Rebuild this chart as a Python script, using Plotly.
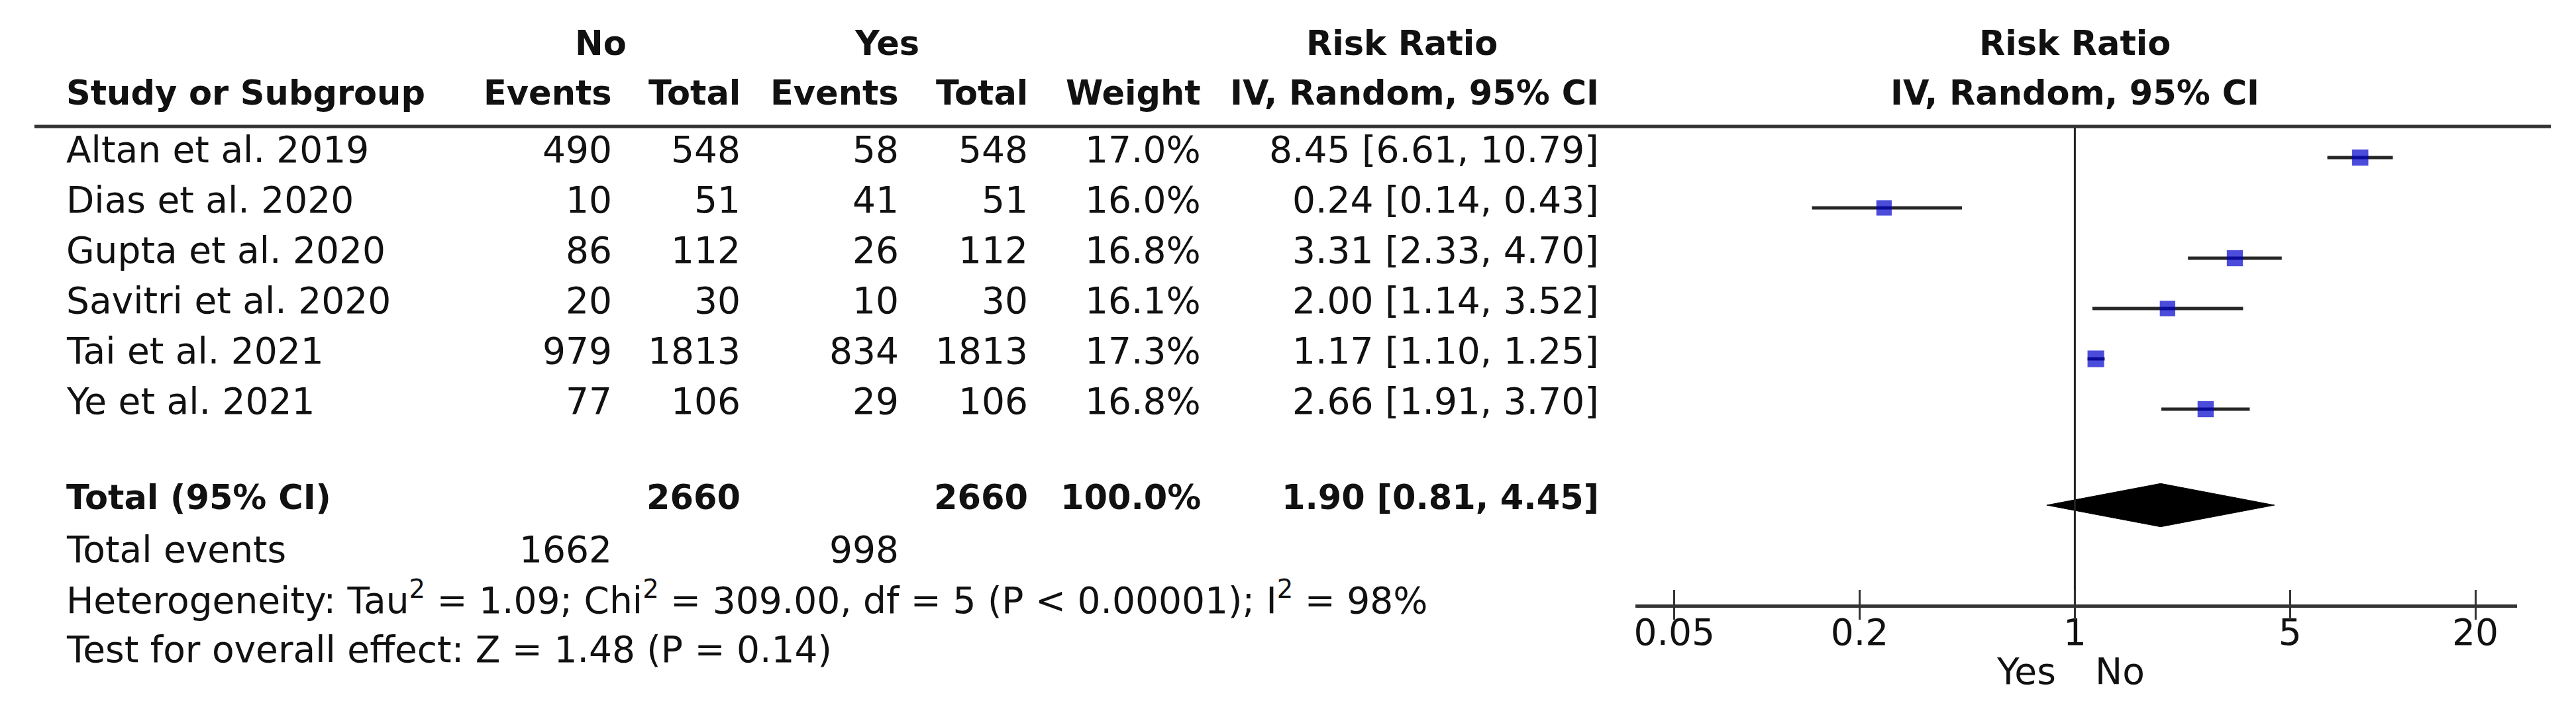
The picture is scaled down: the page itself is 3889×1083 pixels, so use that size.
import math
import plotly.graph_objects as go

# ---------------- data ----------------
studies = ["Altan et al. 2019", "Dias et al. 2020", "Gupta et al. 2020",
           "Savitri et al. 2020", "Tai et al. 2021", "Ye et al. 2021"]
no_events = [490, 10, 86, 20, 979, 77]
no_total = [548, 51, 112, 30, 1813, 106]
yes_events = [58, 41, 26, 10, 834, 29]
yes_total = [548, 51, 112, 30, 1813, 106]
weights = [17.0, 16.0, 16.8, 16.1, 17.3, 16.8]
rr = [8.45, 0.24, 3.31, 2.00, 1.17, 2.66]
ci_low = [6.61, 0.14, 2.33, 1.14, 1.10, 1.91]
ci_high = [10.79, 0.43, 4.70, 3.52, 1.25, 3.70]

total_no = 2660
total_yes = 2660
total_weight = 100.0
total_rr = 1.90
total_low = 0.81
total_high = 4.45
events_no = 1662
events_yes = 998

tick_vals = [0.05, 0.2, 1, 5, 20]
tick_text = ["0.05", "0.2", "1", "5", "20"]

heterogeneity = "Heterogeneity: Tau<sup>2</sup> = 1.09; Chi<sup>2</sup> = 309.00, df = 5 (P < 0.00001); I<sup>2</sup> = 98%"
overall = "Test for overall effect: Z = 1.48 (P = 0.14)"

# ---------------- layout constants ----------------
W, H = 3889, 1083
ROW0_PX, ROW_PX = 230, 76
def row_of(px):
    return (px - ROW0_PX) / ROW_PX

study_rows = list(range(len(studies)))
r_total = row_of(755)
r_events = row_of(834)
r_het = row_of(907)
r_test = row_of(985)
r_head1 = row_of(69)
r_head2 = row_of(144)
r_hline = row_of(183)
r_axis = row_of(907)
r_yesno = row_of(1018)

FONT = "DejaVu Sans"
FS = 55
FSB = 51
TXT = "#111111"
LINE = "#333333"
YSHIFT = 12

def px(x):
    return x / W

x_axis_left, x_axis_right, x_one, px_per_dec = 2460, 3792, 3124, 465.0
xrange = [(x_axis_left - x_one) / px_per_dec, (x_axis_right - x_one) / px_per_dec]
xdomain = [px(x_axis_left), px(x_axis_right)]

fig = go.Figure()

# CI lines
cx, cy = [], []
for r, lo, hi in zip(study_rows, ci_low, ci_high):
    cx += [lo, hi, None]
    cy += [r, r, None]
fig.add_trace(go.Scatter(x=cx, y=cy, mode="lines", line=dict(color="#262626", width=5),
                         hoverinfo="skip", showlegend=False))
# squares
fig.add_trace(go.Scatter(x=rr, y=study_rows, mode="markers",
                         marker=dict(symbol="square", size=[w * 1.45 for w in weights],
                                     color="#0000CC", line=dict(width=0)),
                         showlegend=False))
# diamond
dh = 0.43
fig.add_trace(go.Scatter(x=[total_low, total_rr, total_high, total_rr, total_low],
                         y=[r_total, r_total - dh, r_total, r_total + dh, r_total],
                         mode="lines", fill="toself", fillcolor="black",
                         line=dict(color="black", width=1), showlegend=False))
# vertical line of no effect (on overlay axis)
fig.add_trace(go.Scatter(x=[1, 1], y=[r_hline, r_axis], mode="lines",
                         line=dict(color="#222222", width=3), xaxis="x2",
                         showlegend=False, hoverinfo="skip"))

axis_pos = 1 - 907 / H
fig.update_layout(
    width=W, height=H, margin=dict(l=0, r=0, t=0, b=0),
    paper_bgcolor="white", plot_bgcolor="white",
    font=dict(family=FONT, size=FS, color=TXT),
    xaxis=dict(type="log", domain=xdomain, range=xrange, anchor="free", position=axis_pos,
               showgrid=False, zeroline=False, showline=True, linecolor=LINE, linewidth=5,
               ticks="inside", ticklen=22, tickwidth=3, tickcolor=LINE,
               tickvals=tick_vals, ticktext=tick_text, ticklabelstandoff=-10,
               tickfont=dict(family=FONT, size=FS, color=TXT)),
    xaxis2=dict(type="log", domain=xdomain, range=xrange, anchor="free", position=axis_pos,
                overlaying="x", showgrid=False, zeroline=False, showline=False,
                ticks="outside", ticklen=20, tickwidth=3, tickcolor=LINE,
                tickvals=tick_vals, showticklabels=False),
    yaxis=dict(range=[row_of(H), row_of(0)], domain=[0, 1], visible=False),
)

# header line
fig.add_shape(type="line", xref="paper", yref="y", x0=px(42), x1=px(3843),
              y0=r_hline, y1=r_hline, line=dict(color=LINE, width=5))

ann = []
def text(x, y, s, anchor="left", bold=False):
    size = FS
    if bold:
        s = "<b>" + s + "</b>"
        size = FSB
    ann.append(dict(x=px(x), y=y, xref="paper", yref="y", text=s, showarrow=False,
                    xanchor=anchor, yanchor="middle", yshift=YSHIFT,
                    font=dict(family=FONT, size=size, color=TXT)))

C_NAME, C_NOE, C_NOT, C_YE, C_YT, C_W, C_RR = 88, 916, 1111, 1350, 1545, 1806, 2407

# headers
text(897, r_head1, "No", "center", True)
text(1330, r_head1, "Yes", "center", True)
text(2108, r_head1, "Risk Ratio", "center", True)
text(x_one, r_head1, "Risk Ratio", "center", True)
text(C_NAME, r_head2, "Study or Subgroup", "left", True)
text(C_NOE, r_head2, "Events", "right", True)
text(C_NOT, r_head2, "Total", "right", True)
text(C_YE, r_head2, "Events", "right", True)
text(C_YT, r_head2, "Total", "right", True)
text(C_W, r_head2, "Weight", "right", True)
text(C_RR, r_head2, "IV, Random, 95% CI", "right", True)
text(x_one, r_head2, "IV, Random, 95% CI", "center", True)

for r, s, ne, nt, ye, yt, w, e, lo, hi in zip(study_rows, studies, no_events, no_total,
                                               yes_events, yes_total, weights, rr, ci_low, ci_high):
    text(C_NAME, r, s)
    text(C_NOE, r, str(ne), "right")
    text(C_NOT, r, str(nt), "right")
    text(C_YE, r, str(ye), "right")
    text(C_YT, r, str(yt), "right")
    text(C_W, r, f"{w:.1f}%", "right")
    text(C_RR, r, f"{e:.2f} [{lo:.2f}, {hi:.2f}]", "right")

text(C_NAME, r_total, "Total (95% CI)", "left", True)
text(C_NOT, r_total, str(total_no), "right", True)
text(C_YT, r_total, str(total_yes), "right", True)
text(C_W, r_total, f"{total_weight:.1f}%", "right", True)
text(C_RR, r_total, f"{total_rr:.2f} [{total_low:.2f}, {total_high:.2f}]", "right", True)
text(C_NAME, r_events, "Total events")
text(C_NOE, r_events, str(events_no), "right")
text(C_YE, r_events, str(events_yes), "right")
text(C_NAME, r_het, heterogeneity)
text(C_NAME, r_test, overall)

text(3098, r_yesno, "Yes", "right")
text(3153, r_yesno, "No", "left")

fig.update_layout(annotations=ann)
fig.write_html("out.html")
